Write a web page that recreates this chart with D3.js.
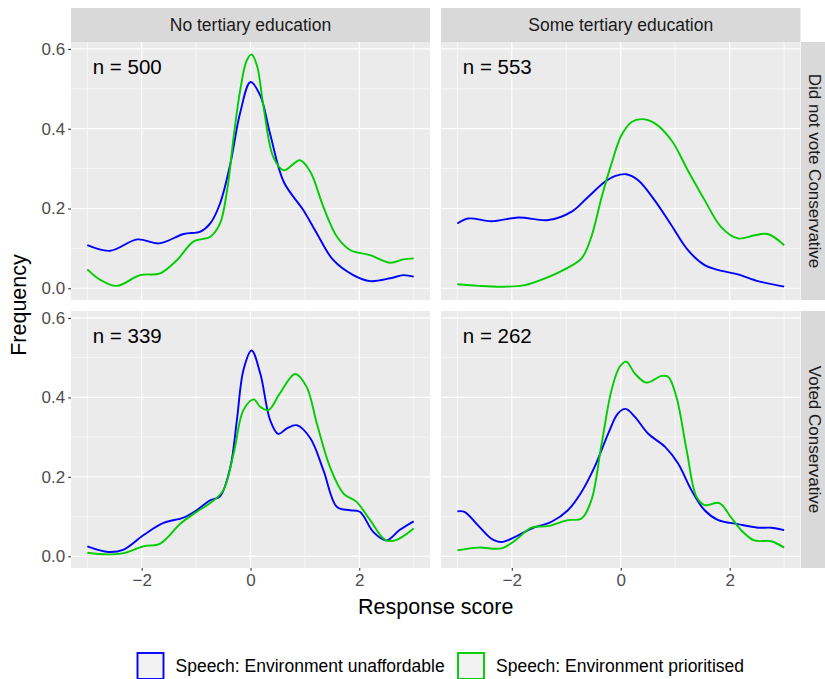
<!DOCTYPE html>
<html>
<head>
<meta charset="utf-8">
<title>Response score densities</title>
<style>
  body { margin: 0; background: #fff; }
  text { font-family: "Liberation Sans", Arial, Helvetica, sans-serif; }
</style>
</head>
<body>
<script src="https://d3js.org/d3.v7.min.js"></script>
<script>
// facets
var colLabels = ['No tertiary education', 'Some tertiary education'];
var rowLabels = ['Did not vote Conservative', 'Voted Conservative'];
var nLabels = [['n = 500', 'n = 553'], ['n = 339', 'n = 262']];
var seriesNames = ['Speech: Environment unaffordable', 'Speech: Environment prioritised'];
var seriesColors = ['#0000FF', '#00CD00'];
var xTicks = [-2, 0, 2];
var yTicks = [0, 0.2, 0.4, 0.6];

// [score, density]
// row 0 col 0
var blue00 = [[-3,0.108],[-2.58,0.094],[-2.08,0.1225],[-1.68,0.1125],[-1.23,0.136],[-0.92,0.142],[-0.74,0.1625],[-0.56,0.2125],[-0.37,0.3125],[-0.19,0.44],[0,0.517],[0.18,0.483],[0.36,0.3875],[0.61,0.267],[0.97,0.196],[1.22,0.1375],[1.52,0.071],[1.89,0.033],[2.2,0.018],[2.57,0.025],[2.81,0.033],[3,0.029]];
var green00 = [[-3,0.0475],[-2.76,0.021],[-2.46,0.006],[-2.03,0.033],[-1.66,0.0375],[-1.35,0.071],[-1.05,0.117],[-0.74,0.129],[-0.56,0.1625],[-0.43,0.246],[-0.31,0.379],[-0.19,0.496],[-0.07,0.571],[0.02,0.586],[0.12,0.558],[0.24,0.454],[0.42,0.329],[0.61,0.296],[0.91,0.321],[1.1,0.292],[1.34,0.204],[1.59,0.129],[1.83,0.096],[2.2,0.083],[2.57,0.064],[2.81,0.0725],[3,0.075]];
// row 0 col 1
var blue01 = [[-3,0.1625],[-2.8,0.175],[-2.37,0.168],[-1.88,0.1775],[-1.33,0.171],[-0.9,0.192],[-0.6,0.229],[-0.29,0.267],[-0.11,0.281],[0.1,0.286],[0.32,0.271],[0.62,0.221],[0.93,0.158],[1.23,0.096],[1.54,0.058],[1.78,0.046],[2.15,0.035],[2.52,0.018],[3,0.004]];
var green01 = [[-3,0.01],[-2.61,0.006],[-2.13,0.004],[-1.76,0.008],[-1.39,0.025],[-1.03,0.0475],[-0.72,0.075],[-0.54,0.129],[-0.35,0.229],[-0.17,0.3125],[0.01,0.383],[0.2,0.417],[0.38,0.424],[0.62,0.414],[0.93,0.371],[1.23,0.296],[1.54,0.221],[1.84,0.154],[2.15,0.125],[2.46,0.133],[2.7,0.136],[3,0.108]];
// row 1 col 0
var blue10 = [[-3,0.025],[-2.61,0.011],[-2.33,0.017],[-1.97,0.053],[-1.6,0.084],[-1.23,0.0975],[-0.99,0.116],[-0.74,0.141],[-0.56,0.151],[-0.37,0.225],[-0.25,0.343],[-0.13,0.469],[0.02,0.518],[0.18,0.46],[0.36,0.343],[0.51,0.308],[0.67,0.322],[0.85,0.33],[1.1,0.297],[1.34,0.217],[1.59,0.124],[1.83,0.116],[2.01,0.112],[2.26,0.061],[2.5,0.04],[2.74,0.066],[3,0.088]];
var green10 = [[-3,0.009],[-2.64,0.005],[-2.33,0.008],[-1.97,0.025],[-1.66,0.032],[-1.29,0.082],[-0.99,0.112],[-0.74,0.134],[-0.5,0.166],[-0.31,0.259],[-0.13,0.368],[0.06,0.395],[0.18,0.376],[0.33,0.368],[0.54,0.41],[0.82,0.459],[1.03,0.427],[1.22,0.334],[1.46,0.225],[1.71,0.158],[1.95,0.137],[2.2,0.091],[2.47,0.042],[2.66,0.04],[3,0.07]];
// row 1 col 1
var blue11 = [[-3,0.113],[-2.87,0.112],[-2.62,0.078],[-2.38,0.045],[-2.19,0.036],[-1.94,0.049],[-1.64,0.07],[-1.27,0.087],[-0.97,0.116],[-0.72,0.162],[-0.48,0.225],[-0.23,0.309],[-0.05,0.36],[0.09,0.371],[0.26,0.351],[0.5,0.309],[0.81,0.276],[1.05,0.234],[1.3,0.166],[1.54,0.116],[1.78,0.092],[2.15,0.081],[2.52,0.072],[2.76,0.072],[3,0.066]];
var green11 = [[-3,0.015],[-2.61,0.022],[-2.19,0.02],[-1.94,0.04],[-1.64,0.072],[-1.34,0.076],[-0.97,0.091],[-0.72,0.095],[-0.54,0.141],[-0.35,0.284],[-0.17,0.418],[-0.02,0.477],[0.1,0.49],[0.26,0.46],[0.47,0.437],[0.75,0.454],[0.87,0.452],[1.02,0.402],[1.21,0.267],[1.39,0.15],[1.54,0.129],[1.81,0.134],[2.02,0.099],[2.21,0.066],[2.45,0.04],[2.76,0.038],[3,0.022]];

var panelData = [[[blue00, green00], [blue01, green01]],
                 [[blue10, green10], [blue11, green11]]];

var width = 825, height = 679;
var colX = [[71, 430], [441, 800.5]];
var rowY = [[42, 300], [311, 568]];

var svg = d3.select('body').append('svg')
    .attr('width', width)
    .attr('height', height);

var xDomain = [-3.3, 3.3];
var yDomain = [-0.0294, 0.6174];

// strips on top
colLabels.forEach(function(lab, c) {
    svg.append('rect')
        .attr('x', colX[c][0]).attr('y', 8)
        .attr('width', colX[c][1] - colX[c][0]).attr('height', 34)
        .attr('fill', '#D9D9D9');
    svg.append('text')
        .attr('x', (colX[c][0] + colX[c][1]) / 2).attr('y', 25)
        .attr('text-anchor', 'middle').attr('dominant-baseline', 'central')
        .attr('font-size', 17.5).attr('fill', '#1A1A1A')
        .text(lab);
});
// strips on right (cut by the page edge, like the original)
rowLabels.forEach(function(lab, r) {
    svg.append('rect')
        .attr('x', 801).attr('y', rowY[r][0])
        .attr('width', 34).attr('height', rowY[r][1] - rowY[r][0])
        .attr('fill', '#D9D9D9');
    var cy = (rowY[r][0] + rowY[r][1]) / 2;
    svg.append('text')
        .attr('transform', 'translate(814,' + cy + ') rotate(90)')
        .attr('text-anchor', 'middle').attr('dominant-baseline', 'central')
        .attr('font-size', 17).attr('fill', '#1A1A1A')
        .text(lab);
});

var line = d3.line().curve(d3.curveCatmullRom.alpha(0.5));

for (var r = 0; r < 2; r++) {
    for (var c = 0; c < 2; c++) {
        var x = d3.scaleLinear().domain(xDomain).range(colX[c]);
        var y = d3.scaleLinear().domain(yDomain).range([rowY[r][1], rowY[r][0]]);
        var g = svg.append('g');

        g.append('rect')
            .attr('x', colX[c][0]).attr('y', rowY[r][0])
            .attr('width', colX[c][1] - colX[c][0]).attr('height', rowY[r][1] - rowY[r][0])
            .attr('fill', '#EBEBEB');

        // minor grid
        [-3, -1, 1, 3].forEach(function(v) {
            g.append('line').attr('x1', x(v)).attr('x2', x(v))
                .attr('y1', rowY[r][0]).attr('y2', rowY[r][1])
                .attr('stroke', '#fff').attr('stroke-width', 0.6);
        });
        [0.1, 0.3, 0.5].forEach(function(v) {
            g.append('line').attr('y1', y(v)).attr('y2', y(v))
                .attr('x1', colX[c][0]).attr('x2', colX[c][1])
                .attr('stroke', '#fff').attr('stroke-width', 0.6);
        });
        // major grid
        xTicks.forEach(function(v) {
            g.append('line').attr('x1', x(v)).attr('x2', x(v))
                .attr('y1', rowY[r][0]).attr('y2', rowY[r][1])
                .attr('stroke', '#fff').attr('stroke-width', 1.2);
        });
        yTicks.forEach(function(v) {
            g.append('line').attr('y1', y(v)).attr('y2', y(v))
                .attr('x1', colX[c][0]).attr('x2', colX[c][1])
                .attr('stroke', '#fff').attr('stroke-width', 1.2);
        });

        // density curves
        panelData[r][c].forEach(function(pts, s) {
            g.append('path')
                .attr('d', line(pts.map(function(d) { return [x(d[0]), y(d[1])]; })))
                .attr('fill', 'none')
                .attr('stroke', seriesColors[s])
                .attr('stroke-width', 1.9);
        });

        g.append('text')
            .attr('x', x(-2.9)).attr('y', y(0.556))
            .attr('dominant-baseline', 'central')
            .attr('font-size', 20.5).attr('fill', '#000')
            .text(nLabels[r][c]);

        // y axis only on left column
        if (c === 0) {
            var ya = d3.axisLeft(y).tickValues(yTicks).tickSize(2.8).tickPadding(3)
                .tickFormat(d3.format('.1f'));
            var yg = svg.append('g').attr('transform', 'translate(' + colX[0][0] + ',0)').call(ya);
            yg.select('.domain').remove();
            yg.selectAll('line').attr('stroke', '#333333').attr('stroke-width', 1.1);
            yg.selectAll('text').attr('font-size', 17).attr('fill', '#4D4D4D')
                .attr('font-family', '"Liberation Sans", Arial, sans-serif');
        }
        // x axis only on bottom row
        if (r === 1) {
            var xa = d3.axisBottom(x).tickValues(xTicks).tickSize(2.8).tickPadding(3)
                .tickFormat(function(d) { return d < 0 ? '\u2212' + Math.abs(d) : d; });
            var xg = svg.append('g').attr('transform', 'translate(0,' + rowY[1][1] + ')').call(xa);
            xg.select('.domain').remove();
            xg.selectAll('line').attr('stroke', '#333333').attr('stroke-width', 1.1);
            xg.selectAll('text').attr('font-size', 17).attr('fill', '#4D4D4D')
                .attr('font-family', '"Liberation Sans", Arial, sans-serif');
        }
    }
}

// axis titles
svg.append('text')
    .attr('x', (colX[0][0] + colX[1][1]) / 2).attr('y', 614)
    .attr('text-anchor', 'middle').attr('font-size', 21.5).attr('fill', '#000')
    .text('Response score');
svg.append('text')
    .attr('transform', 'translate(26,' + (rowY[0][0] + rowY[1][1]) / 2 + ') rotate(-90)')
    .attr('text-anchor', 'middle').attr('font-size', 21.5).attr('fill', '#000')
    .text('Frequency');

// legend
var legendX = [137.5, 458];
seriesNames.forEach(function(name, i) {
    svg.append('rect')
        .attr('x', legendX[i]).attr('y', 653)
        .attr('width', 26).attr('height', 26)
        .attr('fill', '#F2F2F2')
        .attr('stroke', seriesColors[i]).attr('stroke-width', 1.9);
    svg.append('text')
        .attr('x', legendX[i] + 38).attr('y', 671.5)
        .attr('font-size', 17.5).attr('fill', '#000')
        .text(name);
});
</script>
</body>
</html>
